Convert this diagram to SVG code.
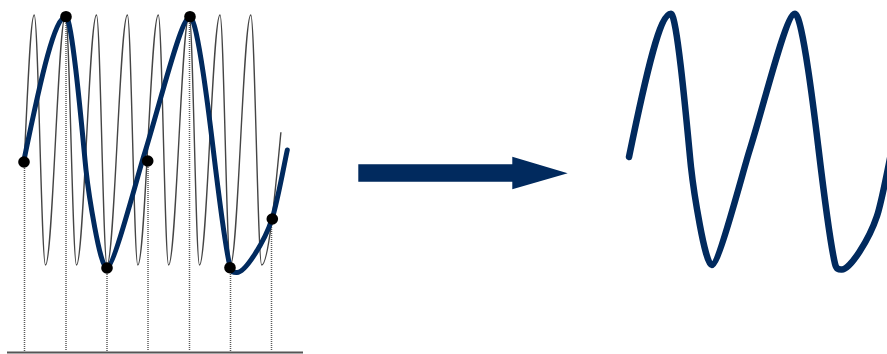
<svg xmlns="http://www.w3.org/2000/svg" xmlns:xlink="http://www.w3.org/1999/xlink" width="887" height="354" viewBox="0 0 887 354">
  <style>
    .sig{fill:none;stroke:#454545;stroke-width:1.4}
    .samp{stroke:#5a5a5a;stroke-width:1.5;stroke-dasharray:1 1}
    .base{stroke:#555;stroke-width:2}
    .alias{fill:none;stroke:#012a5e;stroke-linecap:round;stroke-linejoin:round}
    .dot{fill:#000}
    .navy{fill:#012a5e}
  </style>
  <defs>
    <path id="aliasPath" class="alias" d="M24,160 C42,72 55,16.7 66,16.7 C72.5,16.7 84,151.6 86,170 C88.5,193 100,268 106.7,268 C114,268 139,170 145,152 C160,104 181,16.7 190,16.7 C197.5,16.7 210.3,125 213.3,150 C216.9,180 226,250 230,266.7 C231.5,273 234,272.5 237,272.5 C245,272.5 264,243 272,219 C277,204 284.3,163.8 287.3,150"/>
  </defs>
  <g id="input-plot">
    <g id="sample-lines">
      <line class="samp" x1="24.5" y1="162" x2="24.5" y2="351"/>
      <line class="samp" x1="66" y1="17" x2="66" y2="351"/>
      <line class="samp" x1="107" y1="268" x2="107" y2="351"/>
      <line class="samp" x1="148" y1="161" x2="148" y2="351"/>
      <line class="samp" x1="189.5" y1="17" x2="189.5" y2="351"/>
      <line class="samp" x1="230.5" y1="268" x2="230.5" y2="351"/>
      <line class="samp" x1="271.5" y1="219" x2="271.5" y2="351"/>
    </g>
    <line id="baseline" class="base" x1="7" y1="352.5" x2="303" y2="352.5"/>
    <path id="high-frequency-signal" class="sig" d="M24.5,155 C27.5,95 30.5,15 34.2,15 C38.31,15 41.39,265 45.5,265 C52.78,265 58.22,15 65.5,15 C69.5,15 72.5,265 76.5,265 C83.78,265 89.22,15 96.5,15 C100.32,15 103.18,265 107,265 C114.43,265 119.97,15 127.4,15 C131.19,15 134.01,265 137.8,265 C145.26,265 150.84,15 158.3,15 C162.05,15 164.85,265 168.6,265 C176.1,265 181.7,15 189.2,15 C192.95,15 195.75,265 199.5,265 C206.96,265 212.54,15 220,15 C223.79,15 226.61,265 230.4,265 C237.83,265 243.37,15 250.8,15 C254.77,15 257.73,265 261.7,265 C268.7,265 275.9,185.2 280.9,132.2"/>
    <use id="aliased-signal" xlink:href="#aliasPath" href="#aliasPath" stroke-width="5"/>
    <g id="samples">
      <circle class="dot" cx="24" cy="162" r="5.8"/>
      <circle class="dot" cx="66" cy="16.7" r="5.8"/>
      <circle class="dot" cx="107" cy="268" r="5.8"/>
      <circle class="dot" cx="147.7" cy="161" r="5.8"/>
      <circle class="dot" cx="190" cy="16.7" r="5.8"/>
      <circle class="dot" cx="230" cy="267.7" r="5.8"/>
      <circle class="dot" cx="272.3" cy="219" r="5.8"/>
    </g>
  </g>
  <g id="connectors">
    <polygon id="arrow" class="navy" points="358.3,164.3 512.3,164.3 512.3,156.7 567.7,173.2 512.3,189.3 512.3,181.7 358.3,181.7"/>
  </g>
  <g id="output-signal">
    <use xlink:href="#aliasPath" href="#aliasPath" transform="translate(605,-3)" stroke-width="6.5"/>
  </g>
</svg>
